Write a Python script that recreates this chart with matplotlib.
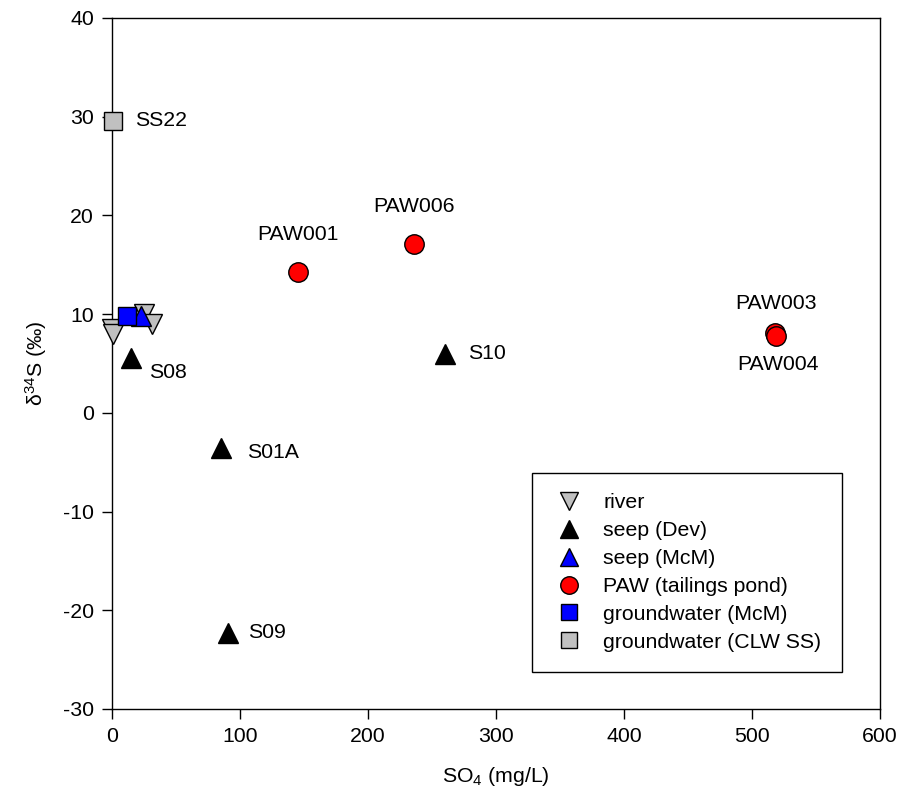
import matplotlib
matplotlib.use("Agg")
import matplotlib.pyplot as plt

plt.rcParams['font.family'] = ['Liberation Sans', 'DejaVu Sans']
plt.rcParams['axes.unicode_minus'] = False
plt.rcParams['mathtext.fontset'] = 'custom'
plt.rcParams['mathtext.rm'] = 'Liberation Sans'
plt.rcParams['mathtext.it'] = 'Liberation Sans'
plt.rcParams['mathtext.default'] = 'regular'

# Sulfate concentration (mg/L) and d34S (permil) by sample group
river_so4 = [0, 1, 25, 31]
river_d34s = [8.5, 8.0, 10.0, 9.0]

seep_dev_names = ["S08", "S01A", "S09", "S10"]
seep_dev_so4 = [15, 85, 91, 260]
seep_dev_d34s = [5.6, -3.6, -22.3, 6.0]

seep_mcm_so4 = [23]
seep_mcm_d34s = [9.8]

paw_names = ["PAW001", "PAW006", "PAW003", "PAW004"]
paw_so4 = [145, 236, 518, 519]
paw_d34s = [14.3, 17.1, 8.1, 7.8]

gw_mcm_so4 = [12]
gw_mcm_d34s = [9.8]

gw_clw_names = ["SS22"]
gw_clw_so4 = [1]
gw_clw_d34s = [29.6]

fig = plt.figure(figsize=(8.99, 8.01), dpi=100)
ax = fig.add_axes([0.1246, 0.1149, 0.8543, 0.8627])

fs = 15.3
ms = 14

common = dict(linestyle='none', mec='black', mew=1.0, clip_on=False)
ax.plot(river_so4, river_d34s, marker='v', ms=ms, mfc='#c0c0c0',
        label='river', zorder=3, **common)
ax.plot(seep_dev_so4, seep_dev_d34s, marker='^', ms=ms, mfc='black',
        label='seep (Dev)', zorder=3, **common)
ax.plot(seep_mcm_so4, seep_mcm_d34s, marker='^', ms=ms, mfc='#0000ff',
        label='seep (McM)', zorder=4, **common)
ax.plot(paw_so4, paw_d34s, marker='o', ms=ms, mfc='#ff0000',
        label='PAW (tailings pond)', zorder=3, **common)
ax.plot(gw_mcm_so4, gw_mcm_d34s, marker='s', ms=ms * 0.95, mfc='#0000ff',
        label='groundwater (McM)', zorder=4, **common)
ax.plot(gw_clw_so4, gw_clw_d34s, marker='s', ms=ms * 0.95, mfc='#c0c0c0',
        label='groundwater (CLW SS)', zorder=3, **common)

# Point labels (offsets in points)
seep_offsets = {"S08": (13, -11), "S01A": (19, -3), "S09": (14, 0), "S10": (17, 0)}
for name, x, y in zip(seep_dev_names, seep_dev_so4, seep_dev_d34s):
    dx, dy = seep_offsets[name]
    ax.annotate(name, (x, y), xytext=(dx, dy), textcoords='offset points',
                ha='left', va='center', fontsize=fs)

paw_offsets = {"PAW001": (0, 20, 'bottom'), "PAW006": (0, 20, 'bottom'),
               "PAW003": (1, 14, 'bottom'), "PAW004": (1, -14, 'top')}
for name, x, y in zip(paw_names, paw_so4, paw_d34s):
    dx, dy, va = paw_offsets[name]
    ax.annotate(name, (x, y), xytext=(dx, dy), textcoords='offset points',
                ha='center', va=va, fontsize=fs)

for name, x, y in zip(gw_clw_names, gw_clw_so4, gw_clw_d34s):
    ax.annotate(name, (x, y), xytext=(16, 0), textcoords='offset points',
                ha='left', va='center', fontsize=fs)

ax.set_xlim(0, 600)
ax.set_ylim(-30, 40)
ax.set_xticks([0, 100, 200, 300, 400, 500, 600])
ax.set_yticks([-30, -20, -10, 0, 10, 20, 30, 40])
ax.tick_params(axis='both', direction='out', length=7, width=1,
               labelsize=fs, pad=6)
ax.tick_params(top=False, right=False)
for sp in ax.spines.values():
    sp.set_linewidth(1.0)
    sp.set_color('black')

ax.set_xlabel('SO$_4$ (mg/L)', fontsize=fs, labelpad=14)
ax.set_ylabel('δ$^{34}$S (‰)', fontsize=fs, labelpad=10)

leg = ax.legend(loc='upper left', bbox_to_anchor=(0.547, 0.3415),
                fontsize=fs, frameon=True, fancybox=False, framealpha=1,
                edgecolor='black', borderpad=0.95, labelspacing=0.42,
                handletextpad=0.8, borderaxespad=0, handlelength=1.6,
                markerscale=0.9)
leg.get_frame().set_linewidth(1.0)

fig.savefig('out.png', dpi=100)
